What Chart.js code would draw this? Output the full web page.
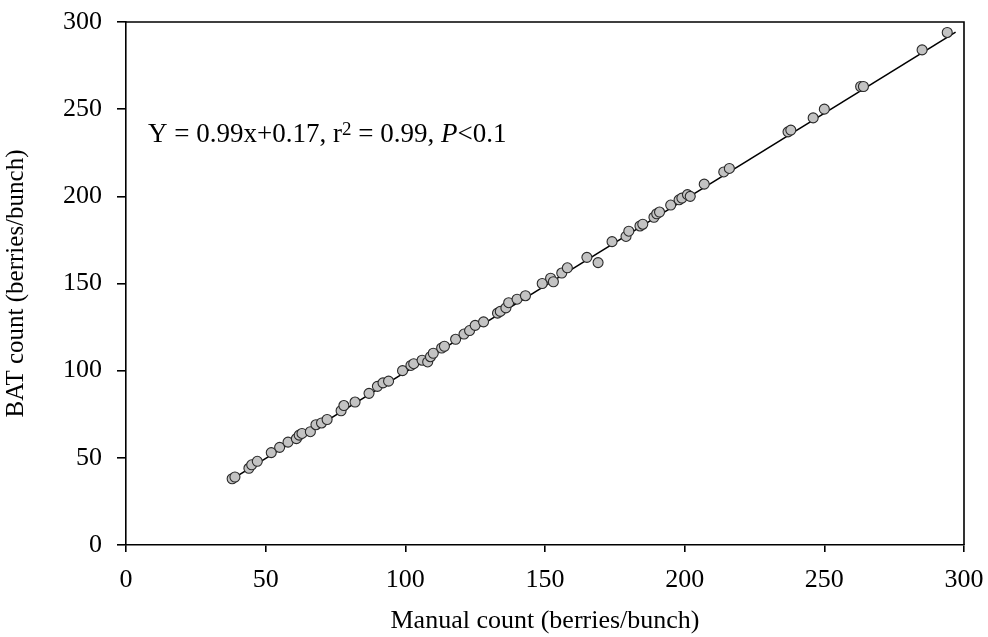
<!DOCTYPE html>
<html>
<head>
<meta charset="utf-8">
<script src="https://cdn.jsdelivr.net/npm/chart.js@4.4.0/dist/chart.umd.min.js"></script>
<style>
html,body{margin:0;padding:0;background:#fff;}
#wrap{width:988px;height:637px;}
</style>
</head>
<body>
<div id="wrap"><canvas id="c" width="988" height="637"></canvas></div>
<script>
// Manual count (x) and BAT count (y), berries per bunch
const manualCount = [38,39,44,45,47,52,55,58,61,62,63,66,68,70,72,77,78,82,87,90,92,94,
  99,102,103,106,108,109,110,113,114,118,121,123,125,128,133,134,136,137,140,143,149,152,153,156,158,165,169,
  174,179,180,184,185,189,190,191,195,198,199,201,202,207,214,216,
  237,238,246,250,263,264,285,294];
const batCount = [38,39,44,46,48,53,56,59,61,63,64,65,69,70,72,77,80,82,87,91,93,94,
  100,103,104,106,105,108,110,113,114,118,121,123,126,128,133,134,136,139,141,143,150,153,151,156,159,165,162,
  174,177,180,183,184,188,190,191,195,198,199,201,200,207,214,216,
  237,238,245,250,263,263,284,294];
// regression line
const regSlope = 0.99;
const regIntercept = 0.17;
const regRangeX = [37, 297];
const axisTicks = [0, 50, 100, 150, 200, 250, 300];
const xTitle = 'Manual count (berries/bunch)';
const yTitle = 'BAT count (berries/bunch)';

const FONT = 'Liberation Serif';
const points = manualCount.map((v, i) => ({x: v, y: batCount[i]}));
const regLine = regRangeX.map(v => ({x: v, y: regSlope * v + regIntercept}));

const framePlugin = {
  id: 'frame',
  afterDraw(chart) {
    const {ctx, chartArea: a} = chart;
    ctx.save();
    ctx.strokeStyle = '#000';
    ctx.lineWidth = 1.6;
    ctx.beginPath();
    ctx.moveTo(a.left, a.top);
    ctx.lineTo(a.right, a.top);
    ctx.lineTo(a.right, a.bottom);
    ctx.stroke();
    ctx.restore();
  }
};

const eqPlugin = {
  id: 'eq',
  afterDraw(chart) {
    const {ctx, chartArea: a} = chart;
    const ys = chart.scales.y;
    const y = ys.getPixelForValue(235.5);
    let x = a.left + 22;
    const size = 27;
    const parts = [
      {t: 'Y = 0.99x+0.17, r', f: `${size}px "${FONT}"`, dy: 0},
      {t: '2', f: `${Math.round(size*0.72)}px "${FONT}"`, dy: -4},
      {t: ' = 0.99, ', f: `${size}px "${FONT}"`, dy: 0},
      {t: 'P', f: `italic ${size}px "${FONT}"`, dy: 0},
      {t: '<0.1', f: `${size}px "${FONT}"`, dy: 0}
    ];
    ctx.save();
    ctx.fillStyle = '#000';
    ctx.textBaseline = 'middle';
    ctx.textAlign = 'left';
    parts.forEach(p => {
      ctx.font = p.f;
      ctx.fillText(p.t, x, y + p.dy);
      x += ctx.measureText(p.t).width;
    });
    ctx.restore();
  }
};

new Chart(document.getElementById('c'), {
  data: {
    datasets: [
      {
        type: 'scatter',
        data: points,
        pointRadius: 5,
        pointBackgroundColor: '#c3c3c3',
        pointBorderColor: '#2a2a2a',
        pointBorderWidth: 1.1
      },
      {
        type: 'line',
        data: regLine,
        borderColor: '#000',
        borderWidth: 1.6,
        pointRadius: 0,
        fill: false
      }
    ]
  },
  options: {
    responsive: false,
    animation: false,
    devicePixelRatio: 1,
    layout: {padding: {left: 0, top: 22, right: 24, bottom: 0}},
    plugins: {legend: {display: false}, tooltip: {enabled: false}},
    scales: {
      x: {
        type: 'linear',
        min: 0, max: 300,
        afterFit(s) { s.height = 92; s.paddingLeft = 0; s.paddingRight = 0; },
        afterBuildTicks(s) { s.ticks = axisTicks.map(v => ({value: v})); },
        ticks: {color: '#000', font: {family: FONT, size: 26}, padding: 13, maxRotation: 0},
        grid: {drawOnChartArea: false, drawTicks: true, tickLength: 7, color: '#000', lineWidth: 1.6},
        border: {color: '#000', width: 1.6},
        title: {display: true, text: xTitle, color: '#000', font: {family: FONT, size: 26}, padding: {top: 0, bottom: 0}}
      },
      y: {
        type: 'linear',
        min: 0, max: 300,
        afterFit(s) { s.width = 126; s.paddingTop = 0; s.paddingBottom = 0; },
        afterBuildTicks(s) { s.ticks = axisTicks.map(v => ({value: v})); },
        ticks: {color: '#000', font: {family: FONT, size: 26}, padding: 15},
        grid: {drawOnChartArea: false, drawTicks: true, tickLength: 9, color: '#000', lineWidth: 1.6},
        border: {color: '#000', width: 1.6},
        title: {display: true, text: yTitle, color: '#000', font: {family: FONT, size: 25}, padding: {top: 1, bottom: 0}}
      }
    }
  },
  plugins: [framePlugin, eqPlugin]
});
</script>
</body>
</html>
